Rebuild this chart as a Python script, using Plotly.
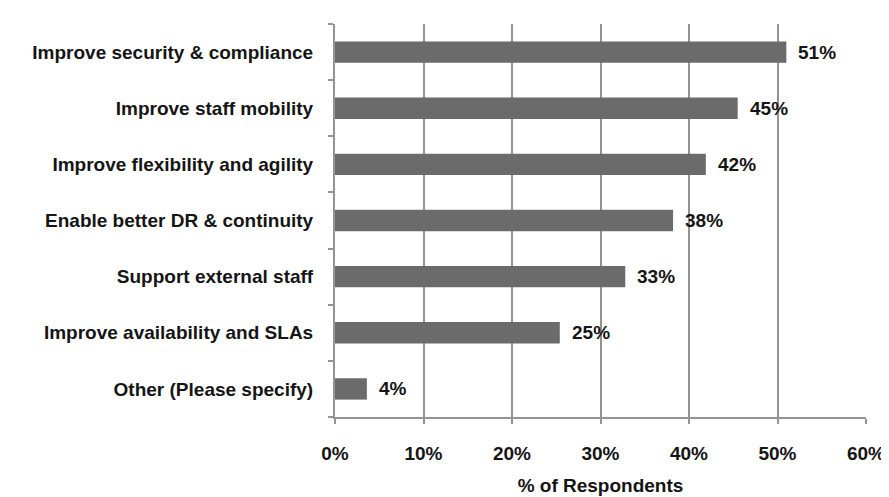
import plotly.graph_objects as go

categories = [
    "Improve security & compliance",
    "Improve staff mobility",
    "Improve flexibility and agility",
    "Enable better DR & continuity",
    "Support external staff",
    "Improve availability and SLAs",
    "Other (Please specify)",
]
values = [51.0, 45.5, 41.9, 38.2, 32.8, 25.4, 3.6]
value_labels = ["51%", "45%", "42%", "38%", "33%", "25%", "4%"]
tick_vals = [0, 10, 20, 30, 40, 50, 60]
tick_text = ["0%", "10%", "20%", "30%", "40%", "50%", "60%"]

FONT = "Liberation Sans, Arial, sans-serif"
BOLD = dict(family=FONT, size=19, color="#151515", weight="bold")

fig = go.Figure(go.Bar(
    y=categories,
    x=values,
    orientation="h",
    marker=dict(color="#6b6b6b", line=dict(width=0)),
    width=0.38,
))

for cat, val, lab in zip(categories, values, value_labels):
    fig.add_annotation(x=val, y=cat, text=lab, showarrow=False,
                       xanchor="left", yanchor="middle", xshift=10,
                       font=BOLD)

fig.update_layout(
    width=889, height=497,
    margin=dict(l=327, r=21, t=16, b=76),
    plot_bgcolor="white", paper_bgcolor="white",
    showlegend=False,
    font=dict(family=FONT, size=19, color="#151515"),
)
fig.update_xaxes(
    range=[0, 60], tickvals=tick_vals, ticktext=tick_text,
    showgrid=True, gridcolor="#949494", gridwidth=2,
    showline=True, linecolor="#949494", linewidth=2,
    ticks="outside", ticklen=5, tickcolor="#949494", tickwidth=2,
    tickfont=BOLD,
    ticklabelstandoff=13,
    title=dict(text="% of Respondents", standoff=16, font=BOLD),
    zeroline=False,
)
fig.update_yaxes(
    categoryorder="array", categoryarray=categories[::-1],
    showline=True, linecolor="#949494", linewidth=2,
    ticks="outside", ticklen=5, tickcolor="#949494", tickwidth=2,
    tickson="boundaries",
    tickfont=BOLD,
    ticklabelstandoff=16,
    showgrid=False,
)

fig.write_html("out.html")
